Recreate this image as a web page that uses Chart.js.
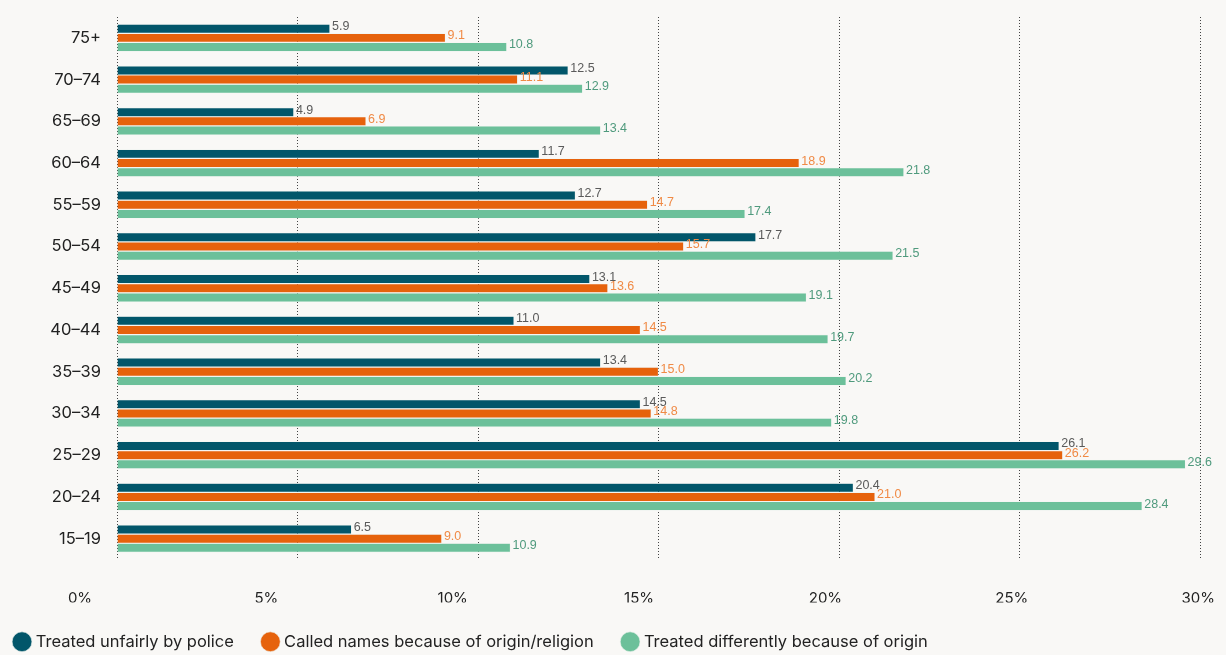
<!DOCTYPE html>
<html lang="en">
<head>
    <meta charset="UTF-8">
    <title>Discrimination by age group</title>
    <script src="https://cdn.jsdelivr.net/npm/chart.js@4.4.1/dist/chart.umd.min.js"></script>
    <style>
        html, body { margin: 0; padding: 0; background: #f9f8f6; }
        #wrap { width: 1226px; height: 655px; }
    </style>
</head>
<body>
    <div id="wrap"><canvas id="chart"></canvas></div>
    <script>
        // Age groups, top to bottom
        const ageGroups = ['75+', '70–74', '65–69', '60–64', '55–59', '50–54', '45–49',
                           '40–44', '35–39', '30–34', '25–29', '20–24', '15–19'];

        const seriesNames = [
            'Treated unfairly by police',
            'Called names because of origin/religion',
            'Treated differently because of origin'
        ];

        const police      = [5.9, 12.5, 4.9, 11.7, 12.7, 17.7, 13.1, 11.0, 13.4, 14.5, 26.1, 20.4, 6.5];
        const calledNames = [9.1, 11.1, 6.9, 18.9, 14.7, 15.7, 13.6, 14.5, 15.0, 14.8, 26.2, 21.0, 9.0];
        const differently = [10.8, 12.9, 13.4, 21.8, 17.4, 21.5, 19.1, 19.7, 20.2, 19.8, 29.6, 28.4, 10.9];

        const xTicks = [0, 5, 10, 15, 20, 25, 30];

        const barColors   = ['#02566a', '#e6620c', '#6cc09a'];
        const labelColors = ['#5a5a5a', '#f08a45', '#4f9a7d'];

        const FONT = 'Inter, "Noto Sans", sans-serif';

        // value labels at the end of each bar
        const valueLabels = {
            id: 'valueLabels',
            afterDatasetsDraw(chart) {
                const ctx = chart.ctx;
                ctx.save();
                ctx.font = '12.5px "Liberation Sans", Arial, sans-serif';
                ctx.textAlign = 'left';
                ctx.textBaseline = 'middle';
                chart.data.datasets.forEach((ds, i) => {
                    const meta = chart.getDatasetMeta(i);
                    ctx.fillStyle = labelColors[i];
                    meta.data.forEach((bar, j) => {
                        ctx.fillText(ds.data[j].toFixed(1), bar.x + 2, bar.y - 2);
                    });
                });
                ctx.restore();
            }
        };

        new Chart(document.getElementById('chart'), {
            type: 'bar',
            data: {
                labels: ageGroups,
                datasets: [
                    { label: seriesNames[0], data: police },
                    { label: seriesNames[1], data: calledNames },
                    { label: seriesNames[2], data: differently }
                ].map((d, i) => Object.assign(d, {
                    backgroundColor: barColors[i],
                    borderColor: '#eef3ef',
                    borderWidth: 0.6,
                    categoryPercentage: 0.66,
                    barPercentage: 1.0,
                    xAxisID: 'x'
                }))
            },
            options: {
                indexAxis: 'y',
                responsive: true,
                maintainAspectRatio: false,
                animation: false,
                layout: { padding: { left: -14.5, right: 26, top: 17, bottom: -5 } },
                scales: {
                    x: {
                        position: 'bottom',
                        min: 0,
                        max: 30,
                        afterBuildTicks: s => { s.ticks = xTicks.map(v => ({ value: v })); },
                        ticks: { display: false },
                        border: { display: false, dash: [1, 2] },
                        grid: {
                            color: '#444444',
                            lineWidth: 1,
                            drawTicks: false
                        },
                        afterFit: s => { s.height = 0; }
                    },
                    // the tick labels in the original sit a little off the grid lines
                    x2: {
                        position: 'bottom',
                        min: 0.993,
                        max: 30.05,
                        afterBuildTicks: s => { s.ticks = xTicks.map(v => ({ value: v })); },
                        ticks: {
                            padding: 30,
                            color: '#222222',
                            font: { family: FONT, size: 15 },
                            callback: v => v + '%',
                            maxRotation: 0,
                            autoSkip: false
                        },
                        border: { display: false },
                        grid: { display: false, drawTicks: false },
                        afterFit: s => { s.height = 43; s.paddingLeft = 0; s.paddingRight = 0; }
                    },
                    y: {
                        position: 'left',
                        ticks: {
                            padding: 8,
                            color: '#222222',
                            font: { family: FONT, size: 16.5 }
                        },
                        border: { display: false },
                        grid: { display: false },
                        afterFit: s => { s.width = 131.5; s.paddingTop = 0; s.paddingBottom = 0; }
                    }
                },
                plugins: {
                    legend: {
                        position: 'bottom',
                        align: 'start',
                        labels: {
                            usePointStyle: true,
                            pointStyle: 'circle',
                            boxWidth: 11,
                            boxHeight: 14,
                            padding: 31,
                            color: '#222222',
                            font: { family: FONT, size: 16.5 }
                        }
                    },
                    tooltip: { enabled: false }
                }
            },
            plugins: [valueLabels]
        });
    </script>
</body>
</html>
